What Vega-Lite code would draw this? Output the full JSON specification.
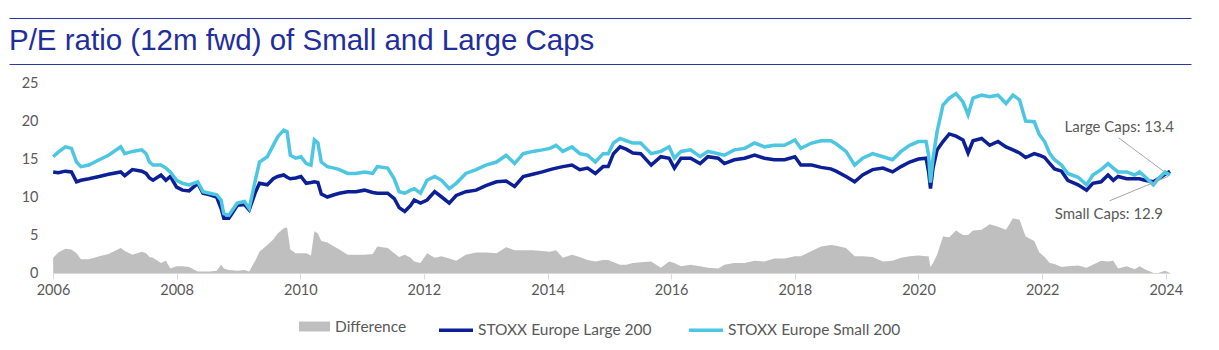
{
  "$schema": "https://vega.github.io/schema/vega-lite/v6.json",
  "background": "white",
  "padding": {"left": 8, "top": 17, "right": 0, "bottom": 0},
  "config": {
    "view": {"stroke": null},
    "font": "Lato",
    "axis": {"labelOverlap": false},
    "axisY": {"labelOverlap": false},
    "legend": {"labelLimit": 400, "layout": {"bottom": {"anchor": "middle", "direction": "horizontal", "margin": 30}}}
  },
  "spacing": 10,
  "vconcat": [
    {
      "width": 1182,
      "height": 46,
      "view": {"stroke": "#2a3a9e", "strokeWidth": 1, "strokeDash": [1182, 46]},
      "data": {"values": [{"title": "P/E ratio (12m fwd) of Small and Large Caps"}]},
      "mark": {"type": "text", "align": "left", "baseline": "middle", "font": "Liberation Sans", "fontSize": 29.5, "color": "#1f2e9c"},
      "encoding": {
        "x": {"datum": 0, "type": "quantitative", "scale": {"domain": [0, 1]}, "axis": null},
        "y": {"datum": 0.5, "type": "quantitative", "scale": {"domain": [0, 1]}, "axis": null},
        "text": {"field": "title"}
      }
    },
    {
      "spacing": 0,
      "hconcat": [
        {"width": 1, "height": 1, "data": {"values": []}, "mark": "point"},
        {
          "width": 1117,
          "height": 190,
          "data": {"values": [
            {"date": "2006-01-02", "small": 15.3, "large": 13.3, "diff": 2.0},
            {"date": "2006-02-01", "small": 15.9, "large": 13.2, "diff": 2.7},
            {"date": "2006-03-15", "small": 16.6, "large": 13.4, "diff": 3.2},
            {"date": "2006-04-20", "small": 16.4, "large": 13.3, "diff": 3.1},
            {"date": "2006-05-20", "small": 14.6, "large": 12.0, "diff": 2.6},
            {"date": "2006-06-15", "small": 14.0, "large": 12.2, "diff": 1.8},
            {"date": "2006-08-01", "small": 14.2, "large": 12.4, "diff": 1.8},
            {"date": "2006-10-01", "small": 14.9, "large": 12.7, "diff": 2.2},
            {"date": "2006-11-25", "small": 15.5, "large": 13.0, "diff": 2.5},
            {"date": "2007-02-05", "small": 16.6, "large": 13.3, "diff": 3.3},
            {"date": "2007-03-01", "small": 15.7, "large": 12.8, "diff": 2.9},
            {"date": "2007-04-15", "small": 16.0, "large": 13.6, "diff": 2.4},
            {"date": "2007-06-10", "small": 16.2, "large": 13.4, "diff": 2.8},
            {"date": "2007-07-05", "small": 15.7, "large": 13.1, "diff": 2.6},
            {"date": "2007-07-25", "small": 14.6, "large": 12.5, "diff": 2.1},
            {"date": "2007-08-15", "small": 14.2, "large": 12.2, "diff": 2.0},
            {"date": "2007-10-01", "small": 14.2, "large": 12.9, "diff": 1.3},
            {"date": "2007-10-30", "small": 13.8, "large": 12.2, "diff": 1.6},
            {"date": "2007-11-25", "small": 13.3, "large": 12.7, "diff": 0.6},
            {"date": "2008-01-01", "small": 12.2, "large": 11.3, "diff": 0.9},
            {"date": "2008-02-05", "small": 11.8, "large": 10.9, "diff": 0.9},
            {"date": "2008-03-15", "small": 11.6, "large": 10.8, "diff": 0.8},
            {"date": "2008-05-05", "small": 12.0, "large": 11.8, "diff": 0.2},
            {"date": "2008-06-05", "small": 10.7, "large": 10.5, "diff": 0.2},
            {"date": "2008-07-15", "small": 10.5, "large": 10.3, "diff": 0.2},
            {"date": "2008-08-25", "small": 10.3, "large": 10.0, "diff": 0.3},
            {"date": "2008-09-20", "small": 9.6, "large": 8.5, "diff": 1.1},
            {"date": "2008-10-06", "small": 7.8, "large": 7.2, "diff": 0.6},
            {"date": "2008-11-05", "small": 7.6, "large": 7.2, "diff": 0.4},
            {"date": "2008-12-25", "small": 9.2, "large": 8.9, "diff": 0.3},
            {"date": "2009-02-05", "small": 9.4, "large": 9.0, "diff": 0.4},
            {"date": "2009-03-05", "small": 8.5, "large": 8.3, "diff": 0.2},
            {"date": "2009-04-12", "small": 12.4, "large": 10.7, "diff": 1.7},
            {"date": "2009-05-05", "small": 14.6, "large": 11.8, "diff": 2.8},
            {"date": "2009-06-20", "small": 15.3, "large": 11.6, "diff": 3.7},
            {"date": "2009-07-25", "small": 16.8, "large": 12.4, "diff": 4.4},
            {"date": "2009-08-20", "small": 17.9, "large": 12.7, "diff": 5.2},
            {"date": "2009-09-25", "small": 18.8, "large": 12.9, "diff": 5.9},
            {"date": "2009-10-15", "small": 18.6, "large": 12.6, "diff": 6.0},
            {"date": "2009-11-03", "small": 15.5, "large": 12.4, "diff": 3.1},
            {"date": "2009-12-05", "small": 15.1, "large": 12.5, "diff": 2.6},
            {"date": "2010-01-05", "small": 15.3, "large": 12.7, "diff": 2.6},
            {"date": "2010-02-05", "small": 14.4, "large": 11.8, "diff": 2.6},
            {"date": "2010-03-05", "small": 14.2, "large": 11.9, "diff": 2.3},
            {"date": "2010-03-25", "small": 17.5, "large": 12.0, "diff": 5.5},
            {"date": "2010-04-15", "small": 17.1, "large": 11.9, "diff": 5.2},
            {"date": "2010-05-05", "small": 14.6, "large": 10.4, "diff": 4.2},
            {"date": "2010-06-10", "small": 14.0, "large": 10.0, "diff": 4.0},
            {"date": "2010-07-20", "small": 13.8, "large": 10.3, "diff": 3.5},
            {"date": "2010-08-20", "small": 13.6, "large": 10.5, "diff": 3.1},
            {"date": "2010-10-08", "small": 13.1, "large": 10.7, "diff": 2.4},
            {"date": "2010-11-25", "small": 13.1, "large": 10.7, "diff": 2.4},
            {"date": "2011-01-15", "small": 13.3, "large": 10.9, "diff": 2.4},
            {"date": "2011-03-05", "small": 13.1, "large": 10.6, "diff": 2.5},
            {"date": "2011-04-01", "small": 14.0, "large": 10.5, "diff": 3.5},
            {"date": "2011-06-01", "small": 13.8, "large": 10.5, "diff": 3.3},
            {"date": "2011-07-10", "small": 12.4, "large": 9.8, "diff": 2.6},
            {"date": "2011-08-08", "small": 10.7, "large": 8.6, "diff": 2.1},
            {"date": "2011-09-10", "small": 10.5, "large": 8.1, "diff": 2.4},
            {"date": "2011-10-15", "small": 10.9, "large": 8.9, "diff": 2.0},
            {"date": "2011-11-05", "small": 11.1, "large": 9.6, "diff": 1.5},
            {"date": "2011-12-12", "small": 10.5, "large": 9.2, "diff": 1.3},
            {"date": "2012-01-20", "small": 12.2, "large": 9.6, "diff": 2.6},
            {"date": "2012-03-05", "small": 12.7, "large": 10.7, "diff": 2.0},
            {"date": "2012-04-15", "small": 12.2, "large": 10.0, "diff": 2.2},
            {"date": "2012-05-30", "small": 11.1, "large": 9.2, "diff": 1.9},
            {"date": "2012-07-10", "small": 11.8, "large": 10.2, "diff": 1.6},
            {"date": "2012-09-05", "small": 13.1, "large": 10.7, "diff": 2.4},
            {"date": "2012-11-05", "small": 13.6, "large": 10.9, "diff": 2.7},
            {"date": "2013-01-01", "small": 14.2, "large": 11.5, "diff": 2.7},
            {"date": "2013-03-05", "small": 14.6, "large": 12.0, "diff": 2.6},
            {"date": "2013-05-01", "small": 15.5, "large": 12.1, "diff": 3.4},
            {"date": "2013-06-20", "small": 14.4, "large": 11.4, "diff": 3.0},
            {"date": "2013-08-10", "small": 15.7, "large": 12.7, "diff": 3.0},
            {"date": "2013-10-05", "small": 16.0, "large": 13.0, "diff": 3.0},
            {"date": "2013-12-01", "small": 16.2, "large": 13.3, "diff": 2.9},
            {"date": "2014-01-15", "small": 16.4, "large": 13.6, "diff": 2.8},
            {"date": "2014-02-20", "small": 16.8, "large": 13.8, "diff": 3.0},
            {"date": "2014-04-01", "small": 16.0, "large": 14.0, "diff": 2.0},
            {"date": "2014-05-25", "small": 16.6, "large": 14.2, "diff": 2.4},
            {"date": "2014-07-10", "small": 15.7, "large": 13.6, "diff": 2.1},
            {"date": "2014-08-25", "small": 15.5, "large": 13.8, "diff": 1.7},
            {"date": "2014-10-10", "small": 14.6, "large": 13.1, "diff": 1.5},
            {"date": "2014-11-25", "small": 15.7, "large": 14.0, "diff": 1.7},
            {"date": "2014-12-25", "small": 15.7, "large": 14.0, "diff": 1.7},
            {"date": "2015-01-25", "small": 17.1, "large": 15.7, "diff": 1.4},
            {"date": "2015-03-05", "small": 17.7, "large": 16.6, "diff": 1.1},
            {"date": "2015-04-10", "small": 17.4, "large": 16.3, "diff": 1.1},
            {"date": "2015-05-20", "small": 17.1, "large": 15.8, "diff": 1.3},
            {"date": "2015-07-05", "small": 17.1, "large": 15.7, "diff": 1.4},
            {"date": "2015-09-05", "small": 15.7, "large": 14.2, "diff": 1.5},
            {"date": "2015-11-01", "small": 16.0, "large": 15.3, "diff": 0.7},
            {"date": "2015-12-20", "small": 16.6, "large": 15.1, "diff": 1.5},
            {"date": "2016-01-20", "small": 15.1, "large": 13.8, "diff": 1.3},
            {"date": "2016-02-28", "small": 16.0, "large": 15.1, "diff": 0.9},
            {"date": "2016-04-25", "small": 16.2, "large": 15.1, "diff": 1.1},
            {"date": "2016-06-20", "small": 15.3, "large": 14.4, "diff": 0.9},
            {"date": "2016-08-05", "small": 16.0, "large": 15.3, "diff": 0.7},
            {"date": "2016-10-05", "small": 15.7, "large": 15.1, "diff": 0.6},
            {"date": "2016-11-10", "small": 15.5, "large": 14.4, "diff": 1.1},
            {"date": "2017-01-08", "small": 16.2, "large": 14.9, "diff": 1.3},
            {"date": "2017-03-10", "small": 16.4, "large": 15.1, "diff": 1.3},
            {"date": "2017-05-08", "small": 17.1, "large": 15.5, "diff": 1.6},
            {"date": "2017-07-05", "small": 16.6, "large": 15.1, "diff": 1.5},
            {"date": "2017-09-01", "small": 16.8, "large": 14.9, "diff": 1.9},
            {"date": "2017-11-01", "small": 16.8, "large": 14.9, "diff": 1.9},
            {"date": "2018-01-01", "small": 17.5, "large": 15.3, "diff": 2.2},
            {"date": "2018-02-05", "small": 16.4, "large": 14.2, "diff": 2.2},
            {"date": "2018-04-10", "small": 17.1, "large": 14.2, "diff": 2.9},
            {"date": "2018-06-05", "small": 17.4, "large": 13.9, "diff": 3.5},
            {"date": "2018-08-01", "small": 17.4, "large": 13.7, "diff": 3.7},
            {"date": "2018-09-01", "small": 17.0, "large": 13.4, "diff": 3.6},
            {"date": "2018-10-30", "small": 16.0, "large": 12.7, "diff": 3.3},
            {"date": "2018-12-20", "small": 14.2, "large": 12.0, "diff": 2.2},
            {"date": "2019-02-05", "small": 15.1, "large": 12.9, "diff": 2.2},
            {"date": "2019-04-05", "small": 15.7, "large": 13.6, "diff": 2.1},
            {"date": "2019-06-05", "small": 15.3, "large": 13.8, "diff": 1.5},
            {"date": "2019-08-01", "small": 14.9, "large": 13.3, "diff": 1.6},
            {"date": "2019-09-20", "small": 16.0, "large": 14.0, "diff": 2.0},
            {"date": "2019-11-10", "small": 16.8, "large": 14.6, "diff": 2.2},
            {"date": "2020-01-01", "small": 17.3, "large": 15.0, "diff": 2.3},
            {"date": "2020-02-15", "small": 17.3, "large": 15.1, "diff": 2.2},
            {"date": "2020-03-01", "small": 15.5, "large": 13.3, "diff": 2.2},
            {"date": "2020-03-12", "small": 11.9, "large": 11.1, "diff": 0.8},
            {"date": "2020-03-27", "small": 15.1, "large": 13.8, "diff": 1.3},
            {"date": "2020-04-20", "small": 18.6, "large": 16.2, "diff": 2.4},
            {"date": "2020-05-25", "small": 22.1, "large": 17.3, "diff": 4.8},
            {"date": "2020-07-01", "small": 23.0, "large": 18.3, "diff": 4.7},
            {"date": "2020-08-10", "small": 23.6, "large": 18.0, "diff": 5.6},
            {"date": "2020-09-20", "small": 22.5, "large": 17.5, "diff": 5.0},
            {"date": "2020-10-20", "small": 20.8, "large": 15.8, "diff": 5.0},
            {"date": "2020-11-18", "small": 23.0, "large": 17.4, "diff": 5.6},
            {"date": "2021-01-08", "small": 23.4, "large": 17.7, "diff": 5.7},
            {"date": "2021-02-25", "small": 23.2, "large": 16.8, "diff": 6.4},
            {"date": "2021-04-15", "small": 23.4, "large": 17.3, "diff": 6.1},
            {"date": "2021-06-01", "small": 22.3, "large": 16.6, "diff": 5.7},
            {"date": "2021-07-12", "small": 23.4, "large": 16.2, "diff": 7.2},
            {"date": "2021-08-20", "small": 22.8, "large": 15.8, "diff": 7.0},
            {"date": "2021-09-25", "small": 20.0, "large": 15.2, "diff": 4.8},
            {"date": "2021-11-15", "small": 19.9, "large": 15.7, "diff": 4.2},
            {"date": "2021-12-15", "small": 18.2, "large": 15.5, "diff": 2.7},
            {"date": "2022-01-15", "small": 17.3, "large": 15.2, "diff": 2.1},
            {"date": "2022-02-15", "small": 15.7, "large": 14.4, "diff": 1.3},
            {"date": "2022-03-15", "small": 14.9, "large": 13.7, "diff": 1.2},
            {"date": "2022-04-25", "small": 14.2, "large": 13.4, "diff": 0.8},
            {"date": "2022-06-01", "small": 13.1, "large": 12.2, "diff": 0.9},
            {"date": "2022-08-01", "small": 12.6, "large": 11.6, "diff": 1.0},
            {"date": "2022-09-20", "small": 11.6, "large": 10.9, "diff": 0.7},
            {"date": "2022-10-27", "small": 12.9, "large": 11.8, "diff": 1.1},
            {"date": "2022-12-15", "small": 13.6, "large": 12.0, "diff": 1.6},
            {"date": "2023-01-25", "small": 14.4, "large": 12.9, "diff": 1.5},
            {"date": "2023-02-25", "small": 13.8, "large": 12.2, "diff": 1.6},
            {"date": "2023-03-25", "small": 13.3, "large": 12.7, "diff": 0.6},
            {"date": "2023-05-15", "small": 13.3, "large": 12.4, "diff": 0.9},
            {"date": "2023-07-01", "small": 12.9, "large": 12.4, "diff": 0.5},
            {"date": "2023-07-30", "small": 13.3, "large": 12.4, "diff": 0.9},
            {"date": "2023-08-30", "small": 12.7, "large": 12.2, "diff": 0.5},
            {"date": "2023-10-20", "small": 11.6, "large": 12.0, "diff": 0.0},
            {"date": "2023-11-18", "small": 12.4, "large": 12.4, "diff": 0.0},
            {"date": "2023-12-28", "small": 13.3, "large": 13.0, "diff": 0.3},
            {"date": "2024-01-26", "small": 12.9, "large": 13.4, "diff": 0.0}
          ]},
          "layer": [
            {
              "mark": {"type": "area", "opacity": 1},
              "encoding": {
                "x": {
                  "field": "date", "type": "temporal",
                  "scale": {"domain": [{"year": 2006, "month": 1, "date": 1}, {"year": 2024, "month": 1, "date": 26}]},
                  "axis": {
                    "values": [{"year": 2006}, {"year": 2008}, {"year": 2010}, {"year": 2012}, {"year": 2014}, {"year": 2016}, {"year": 2018}, {"year": 2020}, {"year": 2022}, {"year": 2024}],
                    "format": "%Y", "title": null, "grid": false,
                    "domainColor": "#d9d9d9", "tickColor": "#d9d9d9", "tickSize": 6,
                    "labelPadding": 4, "labelFont": "Lato", "labelFontSize": 14.5, "labelColor": "#595959",
                    "labelFlush": false, "labelOverlap": false
                  }
                },
                "y": {
                  "field": "diff", "type": "quantitative",
                  "scale": {"domain": [0, 25], "nice": false, "zero": true},
                  "axis": {
                    "values": [0, 5, 10, 15, 20, 25], "title": null, "grid": false, "domain": false,
                    "ticks": false, "tickSize": 0, "labelPadding": 15, "labelFont": "Lato", "labelFontSize": 14.5,
                    "labelColor": "#595959", "minExtent": 43, "maxExtent": 43, "labelOverlap": false, "tickCount": 6
                  }
                },
                "fill": {
                  "datum": "Difference", "type": "nominal",
                  "scale": {"domain": ["Difference"], "range": ["#bfbfbf"]},
                  "legend": {
                    "orient": "bottom", "direction": "horizontal", "title": null, "offset": 14,
                    "symbolType": "M-1,-0.32H1V0.32H-1Z", "symbolSize": 961, "symbolStrokeWidth": 0,
                    "labelFont": "Lato", "labelFontSize": 15.5, "labelColor": "#595959", "labelOffset": 5, "labelLimit": 400
                  }
                }
              }
            },
            {
              "mark": {"type": "line", "strokeWidth": 3.5},
              "encoding": {
                "x": {"field": "date", "type": "temporal"},
                "y": {"field": "large", "type": "quantitative"},
                "stroke": {
                  "datum": "STOXX Europe Large 200", "type": "nominal",
                  "scale": {"domain": ["STOXX Europe Large 200", "STOXX Europe Small 200"], "range": ["#0d1f96", "#4dc6e2"]},
                  "legend": {
                    "orient": "bottom", "direction": "horizontal", "title": null, "offset": 14,
                    "symbolType": "stroke", "symbolSize": 1156, "symbolStrokeWidth": 3.5, "columnPadding": 30,
                    "labelFont": "Lato", "labelFontSize": 15.5, "labelColor": "#595959", "labelOffset": 3, "labelLimit": 400
                  }
                }
              }
            },
            {
              "mark": {"type": "line", "strokeWidth": 3.5},
              "encoding": {
                "x": {"field": "date", "type": "temporal"},
                "y": {"field": "small", "type": "quantitative"},
                "stroke": {"datum": "STOXX Europe Small 200", "type": "nominal"}
              }
            },
            {
              "data": {"values": [{"label": "Large Caps: 13.4"}]},
              "mark": {"type": "text", "font": "Lato", "fontSize": 15, "fill": "#595959", "align": "center", "baseline": "middle"},
              "encoding": {
                "x": {"datum": {"year": 2023, "month": 4, "date": 1}, "type": "temporal"},
                "y": {"datum": 19.25, "type": "quantitative"},
                "text": {"field": "label", "type": "nominal"}
              }
            },
            {
              "data": {"values": [{"label": "Small Caps: 12.9"}]},
              "mark": {"type": "text", "font": "Lato", "fontSize": 15, "fill": "#595959", "align": "center", "baseline": "middle"},
              "encoding": {
                "x": {"datum": {"year": 2023, "month": 1, "date": 30}, "type": "temporal"},
                "y": {"datum": 7.7, "type": "quantitative"},
                "text": {"field": "label", "type": "nominal"}
              }
            },
            {
              "data": {"values": [{"label": "Large Caps: 13.4"}]},
              "mark": {"type": "rule", "stroke": "#a6a6a6", "strokeWidth": 1},
              "encoding": {
                "x": {"datum": {"year": 2023, "month": 3, "date": 28}, "type": "temporal"},
                "y": {"datum": 17.8, "type": "quantitative"},
                "x2": {"datum": {"year": 2023, "month": 12, "date": 24}},
                "y2": {"datum": 13.3}
              }
            },
            {
              "data": {"values": [{"label": "Small Caps: 12.9"}]},
              "mark": {"type": "rule", "stroke": "#a6a6a6", "strokeWidth": 1},
              "encoding": {
                "x": {"datum": {"year": 2023, "month": 2, "date": 3}, "type": "temporal"},
                "y": {"datum": 9.5, "type": "quantitative"},
                "x2": {"datum": {"year": 2024, "month": 1, "date": 15}},
                "y2": {"datum": 12.7}
              }
            }
          ]
        }
      ]
    }
  ]
}
